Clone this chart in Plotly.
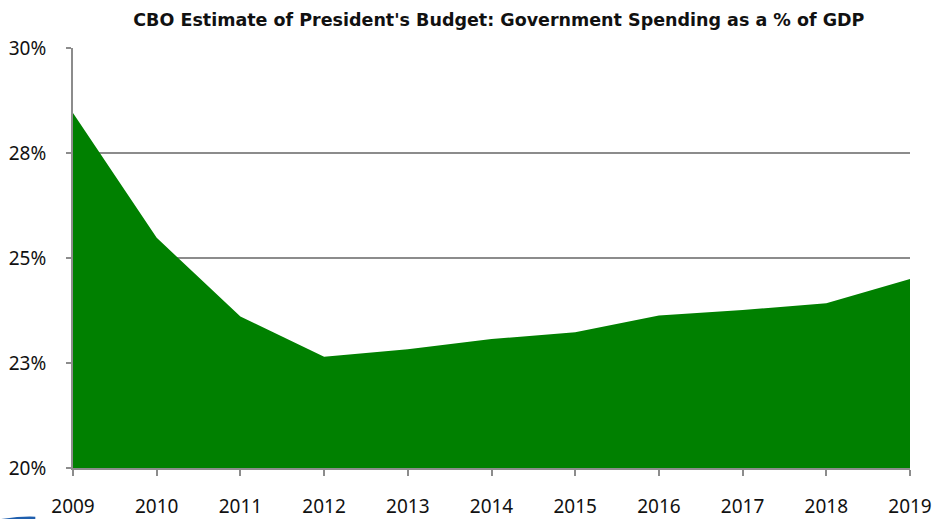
import plotly.graph_objects as go

# CBO estimate of the President's budget: outlays as a share of GDP
years = [2009, 2010, 2011, 2012, 2013, 2014, 2015, 2016, 2017, 2018, 2019]
spending_pct = [28.45, 25.48, 23.61, 22.65, 22.83, 23.07, 23.23, 23.63, 23.76, 23.92, 24.50]

y_tick_vals = [20, 22.5, 25, 27.5, 30]
y_tick_text = ["20%", "23%", "25%", "28%", "30%"]

axis_grey = "#8c8c8c"
tick_font = "Noto Sans, Open Sans, sans-serif"
title_font = "DejaVu Sans, Verdana, sans-serif"

fig = go.Figure()
fig.add_trace(go.Scatter(
    x=years,
    y=spending_pct,
    mode="lines",
    line=dict(color="#008000", width=0),
    fill="tozeroy",
    fillcolor="#008000",
    hoverinfo="x+y",
))

fig.update_layout(
    width=952,
    height=519,
    margin=dict(l=73, r=42, t=48, b=51, autoexpand=False),
    paper_bgcolor="white",
    plot_bgcolor="white",
    showlegend=False,
    title=dict(
        text="<b>CBO Estimate of President's Budget: Government Spending as a % of GDP</b>",
        x=0.524,
        xanchor="center",
        y=0.962,
        yanchor="middle",
        font=dict(family=title_font, size=17.5, color="#111111"),
    ),
    font=dict(family=tick_font, size=19, color="#111111"),
    xaxis=dict(
        range=[2009, 2019],
        tickmode="array",
        tickvals=years,
        ticktext=[str(y) for y in years],
        showgrid=False,
        zeroline=False,
        showline=True,
        linecolor=axis_grey,
        linewidth=2,
        ticks="outside",
        ticklen=6,
        tickwidth=2,
        tickcolor=axis_grey,
        ticklabelstandoff=14,
        automargin=False,
    ),
    yaxis=dict(
        range=[20, 30],
        tickmode="array",
        tickvals=y_tick_vals,
        ticktext=y_tick_text,
        showgrid=True,
        gridcolor=axis_grey,
        gridwidth=2,
        zeroline=False,
        showline=True,
        linecolor=axis_grey,
        linewidth=2,
        ticks="outside",
        ticklen=5,
        tickwidth=2,
        tickcolor=axis_grey,
        ticklabelstandoff=16,
        automargin=False,
    ),
)

# small blue swoosh of the page logo in the bottom-left corner
fig.add_shape(
    type="path",
    xref="paper",
    yref="paper",
    path="M -0.088 -0.122 Q -0.06 -0.114 -0.045 -0.116 L -0.045 -0.122 Z",
    fillcolor="#1f5fae",
    line=dict(width=0),
    layer="above",
)

fig.write_html("out.html")
